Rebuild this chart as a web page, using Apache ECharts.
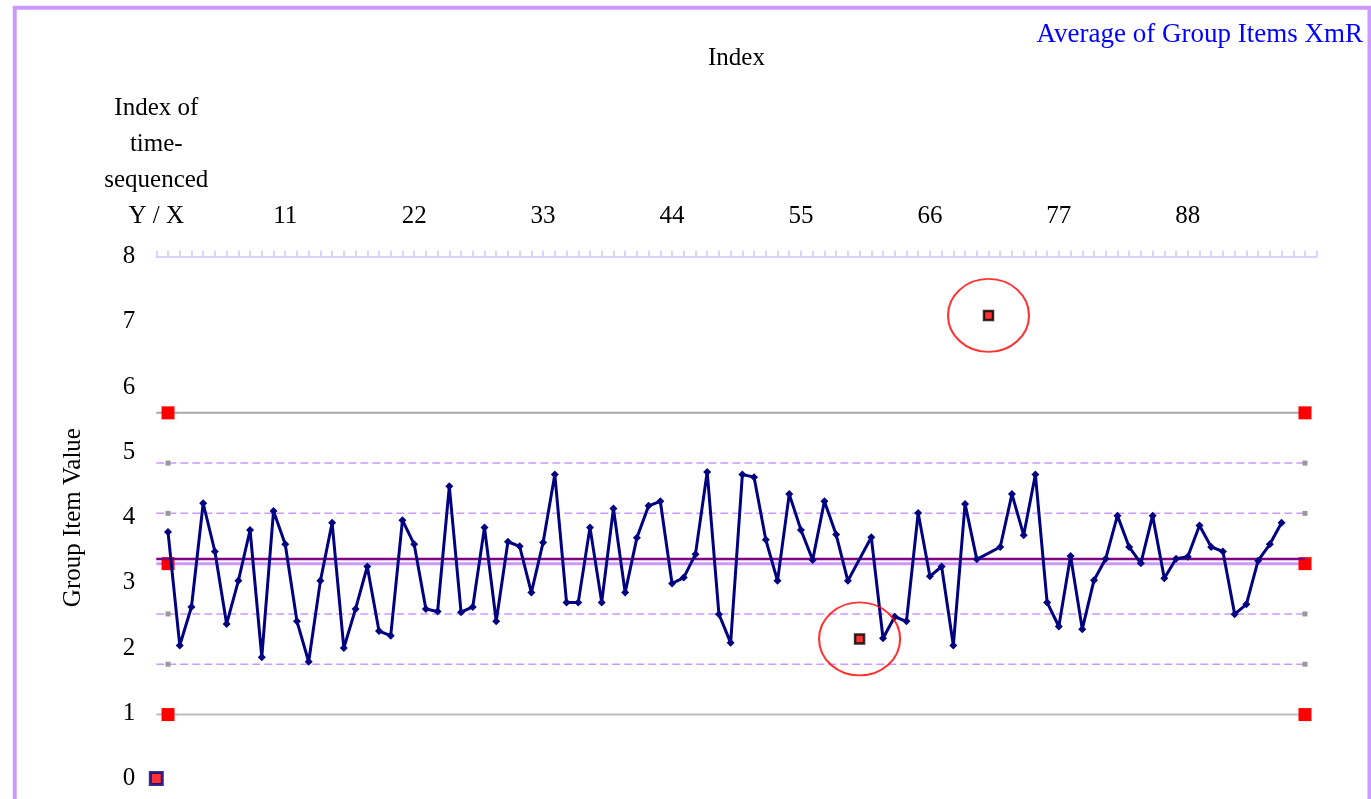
<!DOCTYPE html>
<html>
<head>
<meta charset="utf-8">
<script src="https://cdn.jsdelivr.net/npm/echarts@6/dist/echarts.min.js"></script>
<style>
html,body{margin:0;padding:0;background:#fff;}
#chart{width:1371px;height:799px;}
</style>
</head>
<body>
<div id="chart"></div>
<script>
// ---- data ----
const titleText = 'Average of Group Items XmR';
const xAxisName = 'Index';
const yAxisName = 'Group Item Value';
const firstXLabel = 'Index of\ntime-\nsequenced\nY / X';
// group item values, index 1..96 (null = plotted as out-of-control point)
const values = [3.78, 2.04, 2.63, 4.22, 3.48, 2.37, 3.03, 3.81, 1.86, 4.10,
  3.59, 2.41, 1.79, 3.03, 3.92, 2.00, 2.60, 3.25, 2.26, 2.19,
  3.96, 3.59, 2.60, 2.56, 4.48, 2.55, 2.63, 3.85, 2.41, 3.63,
  3.56, 2.85, 3.62, 4.66, 2.70, 2.70, 3.85, 2.70, 4.14, 2.85,
  3.69, 4.18, 4.25, 2.99, 3.08, 3.44, 4.70, 2.52, 2.08, 4.66,
  4.62, 3.66, 3.03, 4.36, 3.81, 3.35, 4.25, 3.74, 3.03, null,
  3.70, 2.15, 2.48, 2.41, 4.07, 3.10, 3.25, 2.04, 4.21, 3.36,
  null, 3.55, 4.36, 3.73, 4.66, 2.70, 2.33, 3.41, 2.29, 3.04,
  3.37, 4.03, 3.55, 3.30, 4.03, 3.07, 3.37, 3.40, 3.88, 3.55,
  3.48, 2.52, 2.67, 3.34, 3.59, 3.92];
const outlierIdx = [60, 71];
const outlierVals = [2.14, 7.10];
const originPoint = [0, 0];
const ucl = 5.606;
const lcl = 0.98;
const centerLine = 3.294;
const meanLine = 3.367;
const sigmaLines = [4.836, 4.065, 2.523, 1.752];
const limitStart = 0, limitMarkA = 1, limitEnd = 98;

// ---- chart ----
const FONT = '"Liberation Serif", "Times New Roman", serif';
const chart = echarts.init(document.getElementById('chart'));

const lineData = values.map((v, i) => [i + 1, v]);
const outlierData = outlierIdx.map((x, i) => [x, outlierVals[i]]);

function limitSeries(val, color, width, type, markSymbolSize, markColor) {
  return {
    type: 'line',
    data: [
      {value: [limitStart, val], symbolSize: 0},
      {value: [limitMarkA, val]},
      {value: [limitEnd, val]}
    ],
    symbol: 'rect',
    symbolSize: markSymbolSize,
    showAllSymbol: true,
    lineStyle: {color: color, width: width, type: type},
    itemStyle: {color: markColor, borderWidth: 0},
    z: 2,
    silent: true,
    animation: false
  };
}

const series = [];
sigmaLines.forEach(v => {
  series.push(limitSeries(v, '#CC99FF', 1.5, [8, 4], 5, '#999999'));
});
series.push(limitSeries(ucl, '#A8A8A8', 2, 'solid', 13, '#FF0000'));
series.push(limitSeries(lcl, '#BDBDBD', 2, 'solid', 13, '#FF0000'));
series.push(limitSeries(centerLine, '#CC99FF', 3, 'solid', 13, '#FF0000'));
series.push({
  type: 'line',
  data: [[limitStart, meanLine], [limitEnd, meanLine]],
  symbol: 'none',
  lineStyle: {color: '#800080', width: 2.5},
  z: 3, silent: true, animation: false
});
series.push({
  type: 'line',
  data: lineData,
  connectNulls: true,
  symbol: 'diamond',
  symbolSize: 8,
  showAllSymbol: true,
  lineStyle: {color: '#000080', width: 3},
  itemStyle: {color: '#000080'},
  z: 5, animation: false
});
series.push({
  type: 'scatter',
  data: outlierData,
  symbol: 'rect',
  symbolSize: 9,
  itemStyle: {color: '#FF0000', borderColor: '#000000', borderWidth: 2.5},
  z: 6, animation: false
});
series.push({
  type: 'scatter',
  data: outlierData,
  symbol: 'circle',
  symbolSize: [81, 73],
  itemStyle: {color: 'rgba(0,0,0,0)', borderColor: '#FF0000', borderWidth: 2},
  z: 6, silent: true, animation: false
});
series.push({
  type: 'scatter',
  data: [originPoint],
  symbol: 'rect',
  symbolSize: 12,
  clip: false,
  itemStyle: {color: '#FF0000', borderColor: '#000080', borderWidth: 3},
  z: 6, animation: false
});

chart.setOption({
  backgroundColor: '#ffffff',
  animation: false,
  graphic: [{
    type: 'rect',
    shape: {x: 14.7, y: 7.8, width: 1354.8, height: 900},
    style: {fill: 'none', stroke: '#CC99FF', lineWidth: 4},
    z: 0
  }],
  title: {
    text: titleText,
    right: 3,
    top: 16,
    textStyle: {fontFamily: FONT, fontSize: 27, fontWeight: 'normal', color: '#0000FF'}
  },
  grid: {left: 156.3, right: 54.3, top: 256.7, bottom: 20.5},
  xAxis: {
    type: 'value',
    position: 'top',
    min: 0, max: 99, interval: 11,
    name: xAxisName,
    nameLocation: 'middle',
    nameGap: 183,
    nameTextStyle: {fontFamily: FONT, fontSize: 25, color: '#000', lineHeight: 30},
    axisLine: {show: true, onZero: false, lineStyle: {color: '#C8C8FF', width: 1.5}},
    axisTick: {show: true, length: 6, lineStyle: {color: '#C8C8FF', width: 1.5}},
    minorTick: {show: true, splitNumber: 11, length: 6, lineStyle: {color: '#C8C8FF', width: 1.5}},
    splitLine: {show: false},
    axisLabel: {
      margin: 22,
      fontFamily: FONT, fontSize: 25, color: '#000', lineHeight: 36,
      showMaxLabel: false,
      formatter: v => v === 0 ? firstXLabel : (v === 99 ? '' : String(v))
    }
  },
  yAxis: {
    type: 'value',
    min: 0, max: 8, interval: 1,
    name: yAxisName,
    nameLocation: 'middle',
    nameRotate: 90,
    nameGap: 70,
    nameTextStyle: {fontFamily: FONT, fontSize: 25, color: '#000'},
    axisLine: {show: false},
    axisTick: {show: false},
    splitLine: {show: false},
    axisLabel: {margin: 21, fontFamily: FONT, fontSize: 25, color: '#000'}
  },
  series: series
});
</script>
</body>
</html>
